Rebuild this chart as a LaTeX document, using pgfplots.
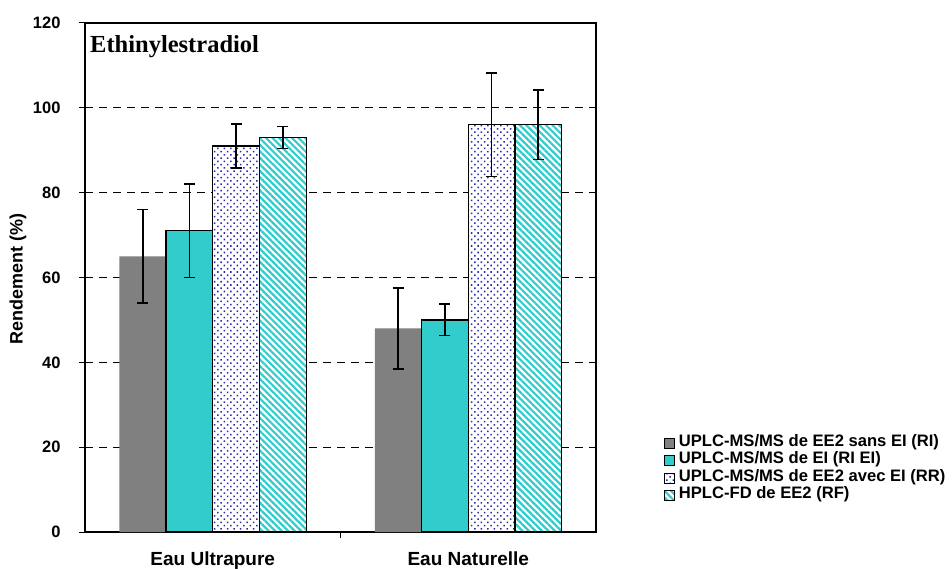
\documentclass[border=0pt]{standalone}
\usepackage{pgfplots}
\pgfplotsset{compat=1.18}
\usepackage{fontspec}
\setmainfont{Liberation Sans}
\newfontfamily\titlefont{Liberation Serif}
\usetikzlibrary{patterns.meta}
\definecolor{barGray}{RGB}{128,128,128}
\definecolor{barTeal}{RGB}{51,204,204}
\definecolor{dotBlue}{RGB}{40,40,170}
\pgfplotsset{
  sqlegend/.style={legend image code/.code={\draw[##1] (0pt,-5pt) rectangle (10pt,5pt);}},
  ebars/.style={error bars/.cd, y dir=both, y explicit,
    error bar style={line width=1.7pt, black},
    error mark options={rotate=90, mark size=5.5pt, line width=1.7pt, black}},
}
\begin{document}
\begin{tikzpicture}[x=1pt,y=1pt]
\path[use as bounding box] (0,0) rectangle (952,568);
\begin{axis}[
  at={(85pt,36pt)}, anchor=south west,
  width=511pt, height=509pt, scale only axis,
  ybar=0pt, bar width=46.7pt,
  xmin=-0.5, xmax=1.5, ymin=0, ymax=120,
  tick pos=left,
  xtick={0,1}, xticklabels={Eau Ultrapure, Eau Naturelle},
  major x tick style={draw=none},
  minor xtick={0.5}, minor tick length=6pt,
  minor x tick style={black, line width=0.8pt},
  ytick={0,20,...,120}, ytick align=outside, major tick length=6pt,
  major y tick style={black, line width=1pt},
  ymajorgrids, grid style={black, line width=1pt, dash pattern=on 8pt off 6pt},
  axis line style={black, line width=1.3pt},
  yticklabel style={font=\fontsize{16.5}{19}\selectfont\bfseries, xshift=-15pt, /pgf/number format/assume math mode=true},
  xticklabel style={font=\fontsize{19}{22}\selectfont\bfseries, yshift=-10pt},
  ylabel={Rendement (\%)},
  ylabel style={font=\fontsize{18}{21}\selectfont\bfseries, at={(axis description cs:-0.131,0.498)}, anchor=center},
  legend cell align=left,
  legend style={at={(rel axis cs:1.126,0.196)}, anchor=north west, draw=none, fill=none,
    font=\fontsize{16.6}{17.5}\selectfont\bfseries, row sep=0pt,
    nodes={inner sep=0pt, text height=12pt, text depth=5.5pt},
    /tikz/every odd column/.append style={column sep=4pt}},
]
\addplot[fill=barGray, draw=none, sqlegend, ebars] coordinates {(0,65) +- (0,11) (1,48) +- (0,9.6)};
\addplot[fill=barTeal, draw=black, line width=1.3pt, sqlegend, ebars] coordinates {(0,71) +- (0,11) (1,50) +- (0,3.7)};
\addplot[fill=white, draw=black, line width=1.3pt, postaction={pattern={Dots[distance=4.6pt, angle=45, radius=1.1pt]}, pattern color=dotBlue}, sqlegend, ebars] coordinates {(0,91) +- (0,5.2) (1,96) +- (0,12.2)};
\addplot[fill=white, draw=black, line width=1.3pt, postaction={pattern={Lines[distance=4.6pt, angle=-45, line width=2.2pt]}, pattern color=barTeal}, sqlegend, ebars] coordinates {(0,93) +- (0,2.6) (1,96) +- (0,8.2)};
\legend{UPLC-MS/MS de EE2 sans EI (RI), UPLC-MS/MS de EI (RI EI), UPLC-MS/MS de EE2 avec EI (RR), HPLC-FD de EE2 (RF)}
\node[anchor=base west, inner sep=0pt, font=\titlefont\bfseries\fontsize{24.5}{28}\selectfont] at (rel axis cs:0.0098,0.943) {Ethinylestradiol};
\end{axis}
\end{tikzpicture}
\end{document}
